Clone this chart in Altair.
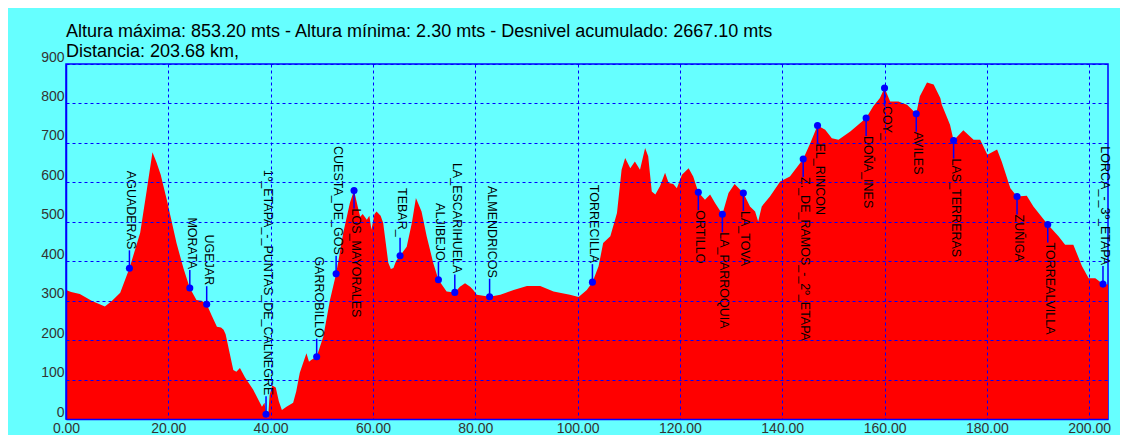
import altair as alt
import pandas as pd

# Elevation profile (distance km, altitude m)
km = [0.0, 1.0, 2.7, 5.0, 7.6, 9.0, 10.6, 12.4, 14.5, 15.8, 16.9, 17.7, 18.5, 19.7, 21.6,
      23.0, 24.2, 25.5, 26.5, 27.5, 28.5, 29.5, 30.3, 30.8, 31.2, 32.7, 33.3, 34.0, 35.0,
      36.6, 38.3, 38.8, 39.1, 39.5, 39.8, 40.3, 41.0, 41.6, 42.2, 43.1, 44.4, 45.0, 45.7,
      47.0, 47.5, 48.0, 49.0, 50.3, 51.6, 52.8, 54.2, 55.5, 56.3, 57.0, 57.5, 58.0, 58.8,
      59.3, 59.7, 60.3, 60.7, 61.5, 62.0, 63.0, 63.5, 64.0, 64.5, 65.3, 66.6, 67.6, 68.4,
      69.5, 70.5, 71.8, 72.8, 74.4, 76.0, 77.0, 78.0, 79.0, 79.6, 80.3, 82.8, 84.9, 86.0,
      87.5, 90.1, 92.7, 95.3, 98.5, 100.2, 101.8, 102.9, 104.1, 105.0, 106.4, 107.7, 108.6,
      109.3, 110.3, 111.2, 112.2, 113.2, 113.8, 114.5, 115.2, 116.1, 117.1, 117.8, 118.7,
      119.4, 120.4, 121.7, 122.6, 123.6, 124.9, 125.9, 126.9, 128.3, 129.5, 130.7, 132.4,
      133.7, 134.7, 135.3, 136.0, 137.6, 139.6, 141.5, 144.1, 145.5, 146.9, 148.4, 149.7,
      151.0, 153.3, 155.2, 156.4, 157.8, 159.1, 160.0, 161.1, 162.7, 164.4, 166.2, 166.9,
      168.3, 169.6, 170.9, 171.2, 172.8, 173.5, 175.4, 177.4, 178.7, 180.1, 182.0, 182.9,
      184.6, 185.9, 187.8, 189.1, 191.9, 194.0, 195.3, 196.9, 198.6, 199.9, 201.2, 202.7,
      203.68]
elev = [327, 322, 317, 300, 285, 300, 320, 382, 472, 581, 676, 650, 620, 556, 446,
        380, 332, 302, 300, 291, 262, 234, 232, 226, 215, 124, 120, 129, 105,
        74, 31, 41, 12, 2.3, 60, 85, 80, 45, 23, 31, 41, 70, 117,
        167, 145, 150, 158, 209, 302, 368, 472, 548, 579, 540, 513, 520, 505,
        515, 480, 520, 526, 515, 497, 396, 380, 383, 400, 414, 437, 497, 560,
        526, 463, 395, 353, 323, 321, 335, 344, 335, 327, 315, 310, 315, 320,
        327, 337, 337, 323, 315, 309, 327, 347, 387, 446, 463, 522, 632,
        662, 636, 653, 632, 687, 666, 577, 569, 590, 624, 598, 596,
        585, 619, 636, 615, 575, 556, 569, 547, 519, 573, 596, 573,
        539, 526, 501, 539, 564, 602, 615, 659, 700, 744, 733, 712,
        708, 729, 750, 763, 793, 814, 839, 805, 805, 797, 774, 818,
        853.2, 848, 814, 797, 746, 706, 732, 708, 708, 670, 683, 653,
        585, 564, 566, 539, 493, 463, 442, 442, 387, 357, 357, 342,
        341]

# Waypoints
wp_names = ["AGUADERAS", "MORATA", "UGEJAR", "1º_ETAPA_-_PUNTAS_DE_CALNEGRE", "GARROBILLO",
            "CUESTA_DE_GOS", "LOS_MAYORALES", "TEBAR_", "ALJIBEJO", "LA_ESCARIHUELA",
            "ALMENDRICOS", "TORRECILLA", "ORTILLO", "LA_PARROQUIA", "LA_TOVA",
            "Z._DE_RAMOS_-_2º_ETAPA", "EL_RINCON", "DOÑA_INES", "COY_", "AVILES",
            "LAS_TERRERAS", "ZUÑIGA", "TORREALVILLA", "LORCA_-_3º_ETAPA"]
wp_km = [12.4, 24.2, 27.5, 39.1, 49.0, 52.8, 56.3, 65.3, 72.8, 76.0, 82.8, 102.9, 123.6,
         128.3, 132.4, 144.1, 146.9, 156.4, 160.0, 166.2, 173.5, 185.9, 191.9, 202.7]
wp_elev = [382, 332, 291, 12, 158, 368, 579, 414, 353, 321, 310, 347, 575, 519, 573, 659,
           744, 763, 839, 774, 706, 564, 493, 342]
wp_side = ["above", "above", "above", "above", "above", "above", "below", "above", "above",
           "above", "above", "above", "below", "below", "below", "below", "below", "below",
           "below", "below", "below", "below", "below", "above"]

x_ticks = [0, 20, 40, 60, 80, 100, 120, 140, 160, 180, 200]
y_ticks = [0, 100, 200, 300, 400, 500, 600, 700, 800, 900]

title_lines = ["Altura máxima: 853.20 mts - Altura mínima: 2.30 mts - Desnivel acumulado: 2667.10 mts",
               "Distancia: 203.68 km,"]

profile = pd.DataFrame({"km": km, "elev": elev})
wp = pd.DataFrame({"name": wp_names, "km": wp_km, "elev": wp_elev, "side": wp_side})
above = wp[wp.side == "above"]
below = wp[wp.side == "below"]

BLUE = "#0000ff"
FONT = "Liberation Sans"

xs = alt.Scale(domain=[0, 203.68], nice=False, zero=False)
ys = alt.Scale(domain=[0, 900], nice=False)

xaxis = alt.Axis(values=x_ticks, format=".2f", grid=True, gridColor=BLUE, gridDash=[3, 3],
                 gridWidth=1, gridOpacity=1, domain=True, domainColor=BLUE, domainWidth=1.5,
                 ticks=False, tickSize=0, labelFont=FONT, labelFontSize=14, labelColor="#333333",
                 labelPadding=2, labelFlush=False, labelOverlap=False, title=None, zindex=1)
yaxis = alt.Axis(values=y_ticks, format="d", grid=True, gridColor=BLUE, gridDash=[3, 3],
                 gridWidth=1, gridOpacity=1, domain=True, domainColor=BLUE, domainWidth=1.5,
                 ticks=False, tickSize=0, labelFont=FONT, labelFontSize=14, labelColor="#333333",
                 labelPadding=2, labelBaseline="alphabetic", labelAlign="right", labelOffset=-3,
                 labelFlush=False, labelOverlap=False, title=None, zindex=1)

X = alt.X("km:Q", scale=xs, axis=xaxis)
Y = alt.Y("elev:Q", scale=ys, axis=yaxis)

area = alt.Chart(profile).mark_area(color="#ff0000", opacity=1, interpolate="linear").encode(x=X, y=Y)

stem_up = alt.Chart(above).mark_rule(color=BLUE, strokeWidth=1.5, y2Offset=-18).encode(
    x=X, y=Y, y2=alt.Y2("elev:Q"))
stem_dn = alt.Chart(below).mark_rule(color=BLUE, strokeWidth=1.5, y2Offset=18).encode(
    x=X, y=Y, y2=alt.Y2("elev:Q"))

txt_up = alt.Chart(above).mark_text(angle=90, align="right", baseline="alphabetic", dx=-19, dy=2,
                                     font=FONT, fontSize=12.5, color="black").encode(
    x=X, y=Y, text="name:N")
txt_dn = alt.Chart(below).mark_text(angle=90, align="left", baseline="alphabetic", dx=18, dy=2,
                                     font=FONT, fontSize=12.5, color="black").encode(
    x=X, y=Y, text="name:N")

dots = alt.Chart(wp).mark_circle(size=50, color=BLUE, opacity=1).encode(x=X, y=Y)

chart = alt.layer(area, stem_up, stem_dn, dots, txt_up, txt_dn).properties(
    width=1042, height=355,
    title=alt.TitleParams(text=title_lines, anchor="start", frame="group", font=FONT,
                          fontSize=18, fontWeight="normal", color="black", lineHeight=20,
                          offset=-11),
    padding={"left": 58, "top": 56, "right": 12, "bottom": 16},
    autosize="none",
    background="#66ffff",
).configure_view(stroke=BLUE, strokeWidth=1.5)

chart.save("out.html", embed_options={"renderer": "svg", "actions": False})
